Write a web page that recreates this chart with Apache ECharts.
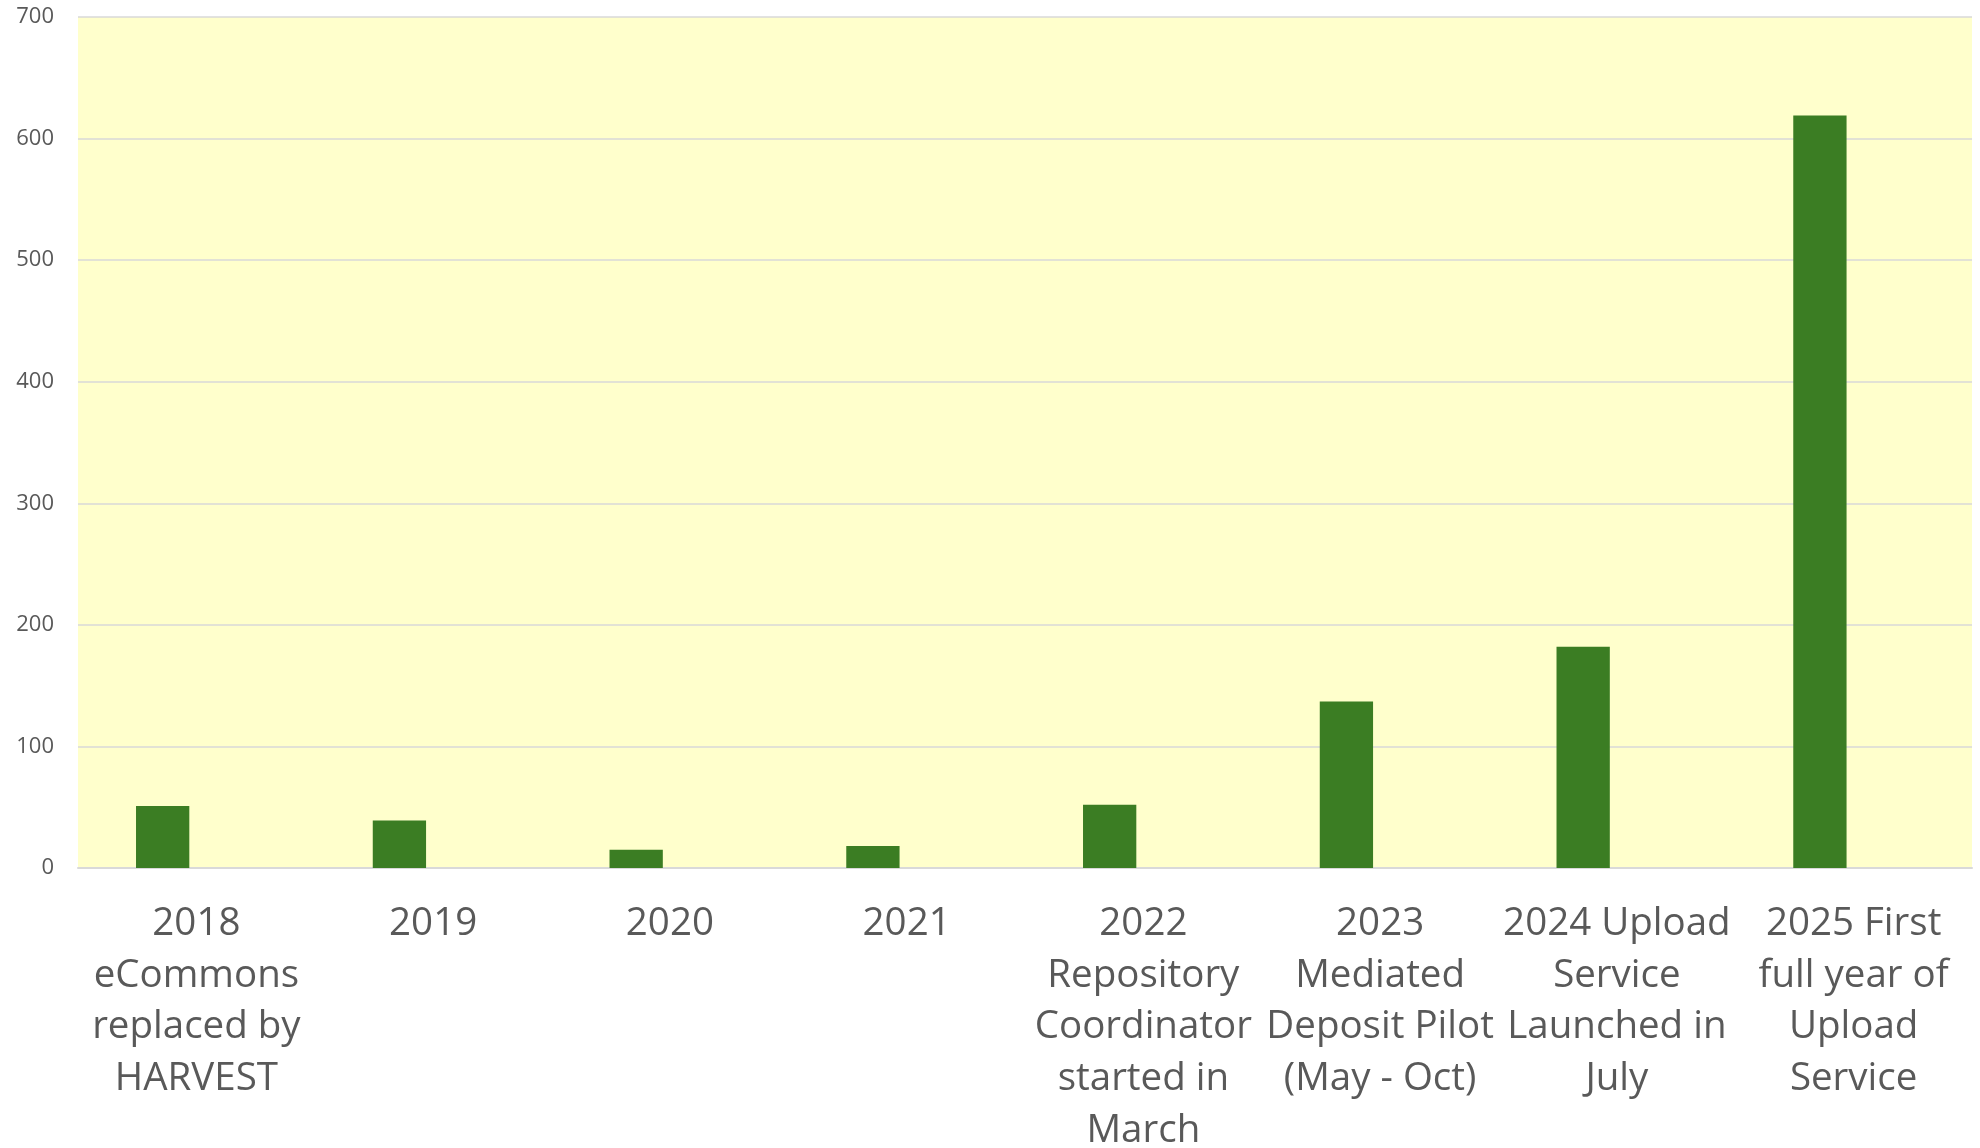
<!DOCTYPE html>
<html>
<head>
<meta charset="utf-8">
<script src="https://cdn.jsdelivr.net/npm/echarts@6/dist/echarts.min.js"></script>
<style>
  html, body { margin: 0; padding: 0; background: #ffffff; }
  #chart { width: 1980px; height: 1148px; }
</style>
</head>
<body>
<div id="chart"></div>
<script>
const categories = [
  "2018\neCommons\nreplaced by\nHARVEST",
  "2019",
  "2020",
  "2021",
  "2022\nRepository\nCoordinator\nstarted in\nMarch",
  "2023\nMediated\nDeposit Pilot\n(May - Oct)",
  "2024 Upload\nService\nLaunched in\nJuly",
  "2025 First\nfull year of\nUpload\nService"
];
const depositValues = [51, 39, 15, 18, 52, 137, 182, 619];
const emptySeriesValues = [null, null, null, null, null, null, null, null];
const yMin = 0, yMax = 700, yInterval = 100;

const chart = echarts.init(document.getElementById('chart'), null, { renderer: 'canvas' });
chart.setOption({
  animation: false,
  backgroundColor: '#ffffff',
  textStyle: { fontFamily: 'Open Sans' },
  grid: {
    left: 78, right: 8, top: 17, bottom: 280,
    show: true, backgroundColor: '#FFFFCC', borderWidth: 0,
    containLabel: false,
    outerBoundsMode: 'none'
  },
  xAxis: {
    type: 'category',
    data: categories,
    boundaryGap: true,
    axisLine: { show: true, lineStyle: { color: '#d9d9d9', width: 2 } },
    axisTick: { show: false },
    splitLine: { show: false },
    axisLabel: {
      interval: 0,
      color: '#595959',
      fontFamily: 'Open Sans',
      fontSize: 38.5,
      lineHeight: 51.7,
      margin: 30,
      align: 'center'
    }
  },
  yAxis: {
    type: 'value',
    min: yMin, max: yMax, interval: yInterval,
    axisLine: { show: false },
    axisTick: { show: false },
    splitLine: { show: true, lineStyle: { color: '#d9d9d9', width: 1.5 } },
    axisLabel: {
      color: '#595959',
      fontFamily: 'Open Sans',
      fontSize: 22,
      margin: 24
    }
  },
  series: [
    {
      name: 'Deposits',
      type: 'bar',
      data: depositValues,
      barWidth: 53.3,
      barGap: '26.5%',
      itemStyle: { color: '#3B7D23' }
    },
    {
      name: 'Empty',
      type: 'bar',
      data: emptySeriesValues,
      barWidth: 53.3,
      itemStyle: { color: '#3B7D23' }
    }
  ]
});
</script>
</body>
</html>
